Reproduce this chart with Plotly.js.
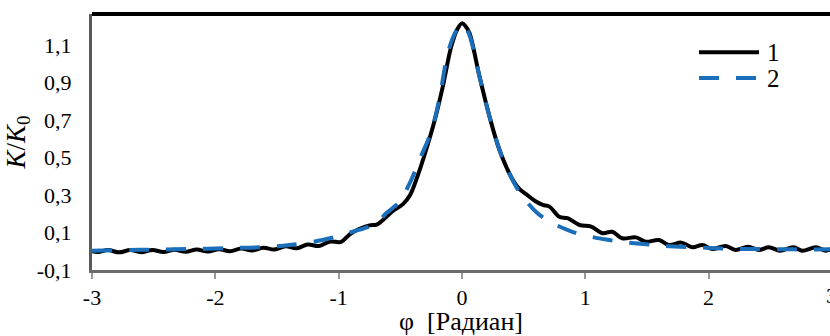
<!DOCTYPE html>
<html>
<head>
<meta charset="utf-8">
<script src="https://cdn.plot.ly/plotly-3.0.1.min.js"></script>
<style>html,body{margin:0;padding:0;background:#fff;overflow:hidden}#chart{width:830px;height:336px}</style>
</head>
<body>
<div id="chart"></div>
<script>
// Series 1 (solid black)
var phi1 = [-3.00,-2.95,-2.87,-2.78,-2.69,-2.60,-2.51,-2.42,-2.33,-2.24,-2.15,-2.06,-1.97,-1.88,-1.79,-1.70,-1.61,-1.52,-1.43,-1.34,-1.25,-1.16,-1.07,-0.98,-0.91,-0.83,-0.75,-0.69,-0.64,-0.56,-0.48,-0.42,-0.36,-0.30,-0.22,-0.155,-0.087,-0.04,0.00,0.03,0.062,0.143,0.224,0.305,0.413,0.47,0.53,0.60,0.656,0.71,0.79,0.857,0.954,1.049,1.14,1.22,1.30,1.41,1.49,1.60,1.68,1.78,1.87,1.95,2.03,2.14,2.22,2.32,2.41,2.49,2.58,2.69,2.76,2.87,2.95,3.00];
var k1 = [0.000,-0.004,0.006,-0.006,0.006,-0.005,0.007,-0.004,0.008,-0.003,0.009,-0.002,0.011,0.000,0.014,0.004,0.019,0.009,0.026,0.016,0.036,0.028,0.052,0.050,0.090,0.120,0.138,0.142,0.167,0.215,0.250,0.300,0.400,0.520,0.700,0.878,1.090,1.180,1.215,1.200,1.162,0.931,0.718,0.540,0.380,0.330,0.300,0.265,0.247,0.238,0.184,0.176,0.140,0.131,0.096,0.104,0.069,0.074,0.051,0.060,0.033,0.046,0.021,0.033,0.012,0.028,0.007,0.024,0.007,0.021,0.003,0.021,0.003,0.021,0.003,0.012];
// Series 2 (dashed blue)
var phi2 = [-3.00,-2.60,-2.20,-1.80,-1.60,-1.40,-1.13,-0.887,-0.695,-0.614,-0.547,-0.506,-0.425,-0.344,-0.249,-0.182,-0.114,-0.05,0.00,0.05,0.143,0.224,0.305,0.345,0.44,0.494,0.60,0.71,0.86,0.98,1.157,1.28,1.47,1.60,1.765,1.90,2.06,2.20,2.39,2.68,3.00];
var k2 = [0.003,0.008,0.012,0.018,0.022,0.033,0.060,0.104,0.149,0.202,0.238,0.264,0.360,0.487,0.638,0.816,1.056,1.170,1.210,1.170,0.931,0.718,0.540,0.469,0.344,0.291,0.211,0.158,0.113,0.087,0.064,0.051,0.039,0.030,0.024,0.021,0.016,0.012,0.012,0.010,0.010];
var seriesNames = ['1','2'];
var xTickVals = [-3,-2,-1,0,1,2,3];
var xTickLabels = ['-3','-2','-1','0','1','2','3'];
var yTickVals = [-0.1,0.1,0.3,0.5,0.7,0.9,1.1];
var yTickLabels = ['-0,1','0,1','0,3','0,5','0,7','0,9','1,1'];

(function () {
  var fam = 'Liberation Serif';
  var xMax = -3 + 738 / 123.3;
  var lineColors = ['#000000', '#1b6fba'];
  var lineDashes = ['solid', '20px,17px'];

  var traces = [
    {x: phi1, y: k1, name: seriesNames[0], mode: 'lines', type: 'scatter', showlegend: false,
     line: {color: lineColors[0], width: 4, shape: 'spline', smoothing: 1}},
    {x: phi2, y: k2, name: seriesNames[1], mode: 'lines', type: 'scatter', showlegend: false,
     line: {color: lineColors[1], width: 4, dash: lineDashes[1], shape: 'spline', smoothing: 1}}
  ];

  var legX0 = 0.8225, legX1 = 0.9038, legTextX = 0.9125;
  var legY = [0.851, 0.750];
  var shp = [
    {type: 'line', xref: 'paper', yref: 'paper', x0: 0, x1: 1.01, y0: 1, y1: 1,
     line: {color: '#000', width: 4}}
  ];
  var ann = [
    {xref: 'paper', yref: 'paper', x: 6 / (xMax + 3), y: 0, yshift: -25, text: xTickLabels[6],
     showarrow: false, xanchor: 'center', yanchor: 'middle', font: {family: fam, size: 22, color: '#000'}}
  ];
  seriesNames.forEach(function (n, i) {
    shp.push({type: 'line', xref: 'paper', yref: 'paper', x0: legX0, x1: legX1, y0: legY[i], y1: legY[i],
              line: {color: lineColors[i], width: 4, dash: lineDashes[i]}});
    ann.push({xref: 'paper', yref: 'paper', x: legTextX, y: legY[i], text: n, showarrow: false,
              xanchor: 'left', yanchor: 'middle', font: {family: fam, size: 25, color: '#000'}});
  });

  var layout = {
    width: 830, height: 336,
    margin: {l: 92, r: 0, t: 14, b: 66, pad: 0},
    paper_bgcolor: '#fff', plot_bgcolor: '#fff',
    font: {family: fam, size: 22, color: '#000'},
    showlegend: false,
    xaxis: {range: [-3, xMax], tickvals: xTickVals, ticktext: xTickLabels, showgrid: false, zeroline: false,
            showline: true, linecolor: '#6b6b6b', linewidth: 2.5, ticks: 'outside', ticklen: 6,
            tickcolor: '#9a9a9a', tickwidth: 2, tickfont: {family: fam, size: 22, color: '#000'},
            title: {text: 'φ&nbsp;&nbsp;[Радиан]', font: {family: fam, size: 26, color: '#000'}, standoff: 4}},
    yaxis: {range: [-0.1, 1.265], tickvals: yTickVals, ticktext: yTickLabels, showgrid: false, zeroline: false,
            showline: true, linecolor: '#5a5a5a', linewidth: 3, ticks: '', ticklabelstandoff: 13,
            tickfont: {family: fam, size: 22, color: '#000'},
            title: {text: '<i>K</i>/<i>K</i><sub>0</sub>', font: {family: fam, size: 27, color: '#000'}, standoff: 4}},
    shapes: shp,
    annotations: ann
  };
  var cfg = {staticPlot: true, displayModeBar: false};

  Plotly.newPlot('chart', traces, layout, cfg);
  if (document.fonts && document.fonts.load) {
    Promise.all([
      document.fonts.load('22px "Liberation Serif"', 'Радиан 0,9'),
      document.fonts.load('italic 27px "Liberation Serif"', 'K')
    ]).then(function () {
      Plotly.newPlot('chart', traces, layout, cfg);
    }, function () {});
  }
})();
</script>
</body>
</html>
